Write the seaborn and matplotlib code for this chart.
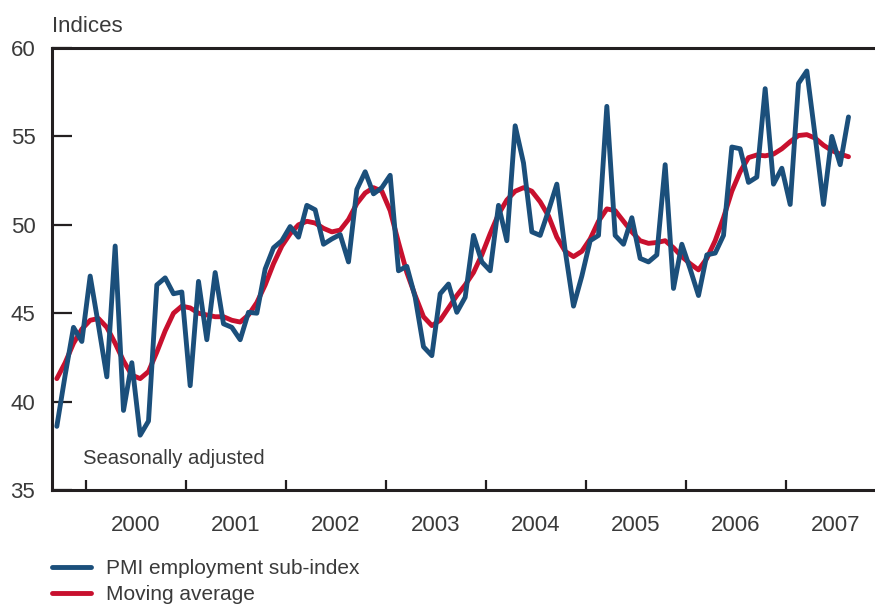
import seaborn as sns
import matplotlib.pyplot as plt
from matplotlib.lines import Line2D
import pandas as pd
import numpy as np

# monthly observations, Sep 1999 - Aug 2007
months = pd.date_range('1999-09-01', periods=96, freq='MS')

pmi_employment = [
    38.6, 41.5, 44.2, 43.4, 47.1, 44.3, 41.4, 48.8, 39.5, 42.2, 38.1, 38.9,
    46.6, 47.0, 46.1, 46.2, 40.9, 46.8, 43.5, 47.3, 44.4, 44.2, 43.5, 45.05,
    45.0, 47.5, 48.7, 49.1, 49.9, 49.3, 51.1, 50.85, 48.9, 49.2, 49.45, 47.9,
    52.0, 53.0, 51.75, 52.1, 52.8, 47.4, 47.65, 45.9, 43.1, 42.6, 46.1, 46.65,
    45.05, 45.9, 49.4, 47.9, 47.4, 51.1, 49.1, 55.6, 53.5, 49.6, 49.4, 50.8,
    52.3, 48.55, 45.4, 47.1, 49.1, 49.4, 56.7, 49.4, 48.9, 50.4, 48.1, 47.9,
    48.3, 53.4, 46.4, 48.9, 47.5, 46.0, 48.3, 48.4, 49.4, 54.4, 54.3, 52.4,
    52.7, 57.7, 52.3, 53.2, 51.15, 58.0, 58.7, 55.0, 51.15, 55.0, 53.4, 56.1,
]

moving_average = [
    41.3, 42.2, 43.3, 44.1, 44.6, 44.7, 44.2, 43.3, 42.3, 41.5, 41.3, 41.7,
    42.8, 44.0, 45.0, 45.4, 45.3, 45.0, 44.9, 44.8, 44.8, 44.6, 44.5, 44.9,
    45.6, 46.6, 47.8, 48.8, 49.5, 50.0, 50.2, 50.1, 49.8, 49.6, 49.7, 50.3,
    51.2, 51.8, 52.1, 51.9, 50.8, 49.0, 47.3, 46.0, 44.8, 44.3, 44.6, 45.3,
    46.0, 46.6, 47.3, 48.3, 49.5, 50.6, 51.4, 51.9, 52.1, 51.9, 51.3, 50.5,
    49.3, 48.5, 48.2, 48.5, 49.2, 50.2, 50.9, 50.8, 50.2, 49.6, 49.1, 48.95,
    49.0, 49.1, 48.7, 48.2, 47.8, 47.45, 48.1, 49.1, 50.4, 51.9, 53.0, 53.8,
    53.95, 53.9, 54.0, 54.3, 54.7, 55.05, 55.1, 54.9, 54.5, 54.2, 54.0, 53.85,
]

year_labels = ['2000', '2001', '2002', '2003', '2004', '2005', '2006', '2007']
y_ticks = [35, 40, 45, 50, 55, 60]

BLUE = '#1b4f7b'
RED = '#c8102e'
INK = '#231f20'
TXT = '#3a3a3a'

sns.set_theme(style='white')
plt.rcParams['font.family'] = ['Liberation Sans', 'DejaVu Sans']

# mid-month position in fractional years
t = months.year + (months.month - 1) / 12 + 1 / 24
df = pd.DataFrame({'t': t, 'pmi': pmi_employment, 'ma': moving_average})

fig = plt.figure(figsize=(8.75, 6.06), dpi=100)
ax = fig.add_axes([52 / 875, 1 - 490 / 606, 1 - 52 / 875, (490 - 48) / 606])

sns.lineplot(data=df, x='t', y='ma', color=RED, linewidth=3.5, ax=ax)
sns.lineplot(data=df, x='t', y='pmi', color=BLUE, linewidth=3.5, ax=ax)

ax.set_xlim(1999.66, 2007.89)
ax.set_ylim(35, 60)
ax.set_xlabel('')
ax.set_ylabel('')

years = [int(y) for y in year_labels]
ax.set_xticks([y + 0.5 for y in years])
ax.set_xticklabels(year_labels)
ax.set_xticks(years, minor=True)
ax.tick_params(axis='x', which='major', length=0, pad=18, labelsize=16, labelcolor=TXT)
ax.tick_params(axis='x', which='minor', direction='in', length=7.5, width=1.6,
               color=INK, bottom=True)
ax.set_yticks(y_ticks)
ax.tick_params(axis='y', direction='in', length=14.5, width=1.6, color=INK,
               left=True, pad=12, labelsize=16, labelcolor=TXT)

for side in ['left', 'top', 'bottom']:
    ax.spines[side].set_color(INK)
    ax.spines[side].set_linewidth(2.2)
ax.spines['right'].set_visible(False)

fig.text(52 / 875, 1 - 26 / 606, 'Indices', fontsize=16, color=TXT,
         ha='left', va='center')
fig.text(83 / 875, 1 - 458 / 606, 'Seasonally adjusted',
         fontsize=14.6, color=TXT, ha='left', va='center')

handles = [Line2D([], [], color=BLUE, linewidth=3.5),
           Line2D([], [], color=RED, linewidth=3.5)]
fig.legend(handles, ['PMI employment sub-index', 'Moving average'],
           loc='upper left', bbox_to_anchor=(52 / 875, 1 - 559 / 606),
           frameon=False, fontsize=15, handlelength=1.85, handletextpad=0.72,
           labelspacing=0.33, borderpad=0, borderaxespad=0,
           labelcolor=TXT)

fig.savefig('out.png', dpi=100)
